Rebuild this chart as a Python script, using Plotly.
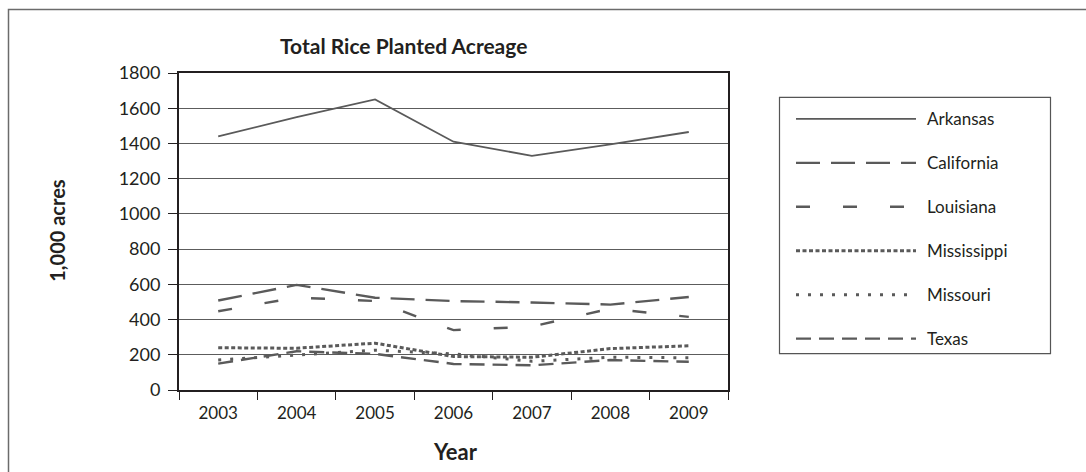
import plotly.graph_objects as go

# Planted rice acreage by state (thousand acres)
years = ["2003", "2004", "2005", "2006", "2007", "2008", "2009"]
states = ["Arkansas", "California", "Louisiana", "Mississippi", "Missouri", "Texas"]
arkansas = [1440, 1550, 1650, 1410, 1330, 1395, 1465]
california = [508, 597, 524, 505, 497, 485, 528]
louisiana = [447, 525, 505, 340, 360, 462, 415]
mississippi = [240, 237, 266, 190, 186, 235, 251]
missouri = [170, 200, 226, 205, 163, 186, 183]
texas = [150, 220, 205, 148, 140, 170, 160]
values = [arkansas, california, louisiana, mississippi, missouri, texas]

y_ticks = [0, 200, 400, 600, 800, 1000, 1200, 1400, 1600, 1800]

# line styles per state
dashes = ["solid", "24px,11px", "14px,33px", "4px,2.5px", "3px,9px", "15px,8px"]
widths = [1.8, 2.4, 2.4, 3.0, 3.0, 2.4]
line_color = "#5a5a5a"
ink = "#231f20"
font_family = "Lato, Open Sans, sans-serif"

W, H = 1086, 472
L, R, T, B = 179, 728, 73, 390.5


def px(x):
    return (x - L) / (R - L)


def py(y):
    return (B - y) / (B - T)


fig = go.Figure()
for name, vals, dash, w in zip(states, values, dashes, widths):
    fig.add_trace(go.Scatter(
        x=years, y=vals, name=name, mode="lines",
        line=dict(color=line_color, width=w, dash=dash),
        showlegend=False,
    ))

shapes = []
annotations = []

# outer frame
shapes.append(dict(type="rect", xref="paper", yref="paper",
                   x0=px(8.5), x1=px(1100), y0=py(490), y1=py(9.5),
                   line=dict(color="#6b6b6b", width=1.5), layer="below"))

# legend box with long line samples
shapes.append(dict(type="rect", xref="paper", yref="paper",
                   x0=px(779.5), x1=px(1050.5), y0=py(354), y1=py(97.5),
                   line=dict(color="#555555", width=1.2)))
for i, (name, dash, w) in enumerate(zip(states, dashes, widths)):
    yy = 119 + i * 44
    shapes.append(dict(type="line", xref="paper", yref="paper",
                       x0=px(796), x1=px(916), y0=py(yy), y1=py(yy),
                       line=dict(color=line_color, width=w, dash=dash)))
    annotations.append(dict(text=name, xref="paper", yref="paper",
                            x=px(925), y=py(yy), xanchor="left", yanchor="middle",
                            showarrow=False,
                            font=dict(family=font_family, size=17, color=ink)))

annotations.append(dict(text="<b>Total Rice Planted Acreage</b>", xref="paper", yref="paper",
                        x=px(403), y=py(45), xanchor="center", yanchor="middle",
                        showarrow=False, font=dict(family=font_family, size=21, color=ink)))
annotations.append(dict(text="<b>1,000 acres</b>", xref="paper", yref="paper",
                        x=px(57), y=py(231), xanchor="center", yanchor="middle",
                        textangle=-90, showarrow=False,
                        font=dict(family=font_family, size=20, color=ink)))
annotations.append(dict(text="<b>Year</b>", xref="paper", yref="paper",
                        x=px(455), y=py(452), xanchor="center", yanchor="middle",
                        showarrow=False, font=dict(family=font_family, size=22, color=ink)))

fig.update_layout(
    width=W, height=H,
    margin=dict(l=L, r=W - R, t=T, b=H - B, pad=0),
    paper_bgcolor="white", plot_bgcolor="white",
    font=dict(family=font_family, size=17, color=ink),
    shapes=shapes, annotations=annotations,
    xaxis=dict(
        type="category", categoryorder="array", categoryarray=years,
        tickson="boundaries", ticks="outside", ticklen=8, tickwidth=1.2, tickcolor=ink,
        showgrid=False, showline=True, mirror=True, linecolor=ink, linewidth=2,
        tickfont=dict(size=17), ticklabelstandoff=7, range=[-0.5, 6.5],
    ),
    yaxis=dict(
        range=[0, 1800], tickvals=y_ticks, ticks="outside", ticklen=9, tickwidth=1.2,
        tickcolor=ink, showgrid=True, gridcolor="#5c5c5c", gridwidth=1, zeroline=False,
        showline=True, mirror=True, linecolor=ink, linewidth=2,
        tickfont=dict(size=18), ticklabelstandoff=4,
    ),
)

fig.write_html("out.html")
